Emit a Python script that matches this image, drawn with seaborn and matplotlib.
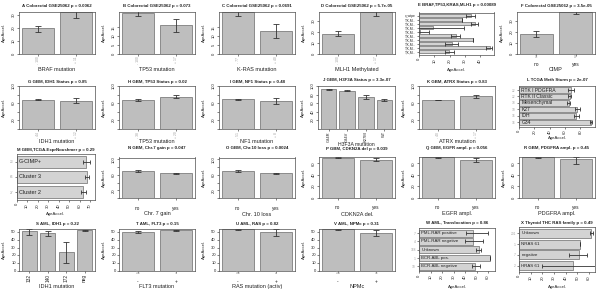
import numpy as np
import matplotlib
matplotlib.use("Agg")
import matplotlib.pyplot as plt
import matplotlib.transforms as mtransforms
import seaborn as sns

sns.set_theme(style="white")
plt.rcParams['font.family'] = ['Liberation Sans', 'DejaVu Sans']

# =========================================================================
# data
# =========================================================================
# row 1 - colorectal
a_cats = ["- 100", "+ 11"]
a_vals = [19.6, 32.6]
a_lo = [17.0, 28.2]
a_hi = [21.7, 37.0]

b_cats = ["- 100", "+ 17"]
b_vals = [23.5, 16.3]
b_lo = [21.5, 12.5]
b_hi = [25.5, 19.8]

c_cats = ["- 77", "+ 40"]
c_vals = [24.0, 13.0]
c_lo = [21.7, 9.2]
c_hi = [26.3, 17.0]

d_cats = ["- 100", "+ 17"]
d_vals = [18.3, 37.6]
d_lo = [15.9, 34.6]
d_hi = [20.5, 40.6]

e_names = ["x_wtpe", "T,K,M..", "T,K,M..", "T,K,M..", "T,K,M..",
           "T,K,M..", "T,K,M..", "T,K,M..", "T,K,M..", "T,K,M.."]
e_vals = [33.7, 28.0, 36.5, 9.3, 0.7, 24.0, 35.0, 21.3, 46.7, 19.8]
e_lo = [31.0, 28.0, 34.0, -11.0, -5.3, 21.0, 35.0, 17.0, 43.7, 17.0]
e_hi = [36.5, 28.0, 38.7, 29.7, 6.7, 27.0, 35.0, 25.6, 47.4, 23.0]

f_cats = ["no", "yes"]
f_counts = ["98", "19"]
f_vals = [18.3, 37.6]
f_lo = [15.3, 36.0]
f_hi = [20.8, 39.2]

# row 2 - GBM
g_cats = ["- 44", "+ 12"]
g_vals = [68.0, 65.0]
g_lo = [66.0, 59.0]
g_hi = [70.0, 72.0]

h_cats = ["- 38", "+ 20"]
h_vals = [67.0, 75.0]
h_lo = [64.0, 71.0]
h_hi = [70.0, 78.0]

i_cats = ["- 51", "+ 8"]
i_vals = [68.5, 64.5]
i_lo = [66.0, 58.0]
i_hi = [70.0, 72.0]

j_cats = ["G34R", "G34V", "K27M", "WT"]
j_vals = [92.5, 89.0, 73.5, 67.0]
j_lo = [91.0, 88.0, 70.0, 64.0]
j_hi = [94.0, 90.0, 78.0, 70.0]

k_cats = ["- 40", "+ 17"]
k_vals = [67.0, 76.0]
k_lo = [66.0, 72.0]
k_hi = [68.0, 80.0]

l_names = ["RTK I PDGFRA", "RTK II Classic", "Mesenchymal", "K27", "IDH", "G34"]
l_counts = ["22", "22", "38", "18", "16", "16"]
l_vals = [67.6, 66.0, 64.6, 76.0, 74.5, 94.0]
l_lo = [64.0, 64.0, 63.0, 73.0, 71.0, 92.8]
l_hi = [72.0, 68.0, 67.0, 80.0, 78.5, 95.6]

# row 3 - GBM copy number
m_names = ["G-CIMP+", "Cluster 3", "Cluster 2"]
m_counts = ["23", "66", "27"]
m_vals = [66.0, 67.0, 63.5]
m_lo = [63.0, 65.0, 61.0]
m_hi = [70.0, 69.0, 66.0]

yn_cats = ["no", "yes"]
n_vals = [69.7, 64.5]
n_lo = [67.7, 63.5]
n_hi = [71.7, 65.5]

o_vals = [69.7, 63.7]
o_lo = [67.0, 62.7]
o_hi = [72.0, 64.7]

p_vals = [69.4, 66.5]
p_lo = [68.4, 63.7]
p_hi = [70.4, 69.3]

q_vals = [70.4, 65.6]
q_lo = [69.9, 63.0]
q_hi = [70.9, 68.9]

r_vals = [70.4, 67.0]
r_lo = [69.9, 59.0]
r_hi = [70.9, 71.0]

# row 4 - AML / thyroid
s_cats = ["132", "140", "172", "neg"]
s_vals = [51.7, 48.7, 23.9, 53.0]
s_lo = [46.5, 45.7, 10.4, 52.5]
s_hi = [53.9, 52.2, 37.0, 53.5]

pm_cats = ["-", "+"]
t_counts = ["136", "57"]
t_vals = [50.0, 53.0]
t_lo = [48.7, 52.5]
t_hi = [51.7, 53.5]

u_counts = ["180", "11"]
u_vals = [53.9, 50.9]
u_lo = [53.4, 45.7]
u_hi = [54.4, 53.9]

v_counts = ["134", "44"]
v_vals = [53.9, 49.6]
v_lo = [53.4, 45.7]
v_hi = [54.4, 53.0]

w_names = ["PML.RAR positive", "PML.RAR negative", "Unknown", "BCR.ABL pos.", "BCR.ABL negative"]
w_counts = ["7", "4", "168", "1", "10"]
w_vals = [47.0, 47.0, 52.0, 62.0, 49.0]
w_lo = [41.0, 40.0, 49.5, 62.0, 46.0]
w_hi = [60.0, 56.0, 54.0, 62.0, 53.0]

x_names = ["Unknown", "NRAS 61", "negative", "HRAS 61"]
x_counts = ["201", "1", "7", "2"]
x_vals = [62.0, 52.0, 51.0, 46.0]
x_lo = [61.0, 52.0, 43.0, 20.0]
x_hi = [63.0, 52.0, 58.0, 72.0]

# =========================================================================
# style
# =========================================================================
FIG_W, FIG_H = 600, 289
BAR = "#bebebe"
HBAR = "#d3d3d3"
EDGE = "#4d4d4d"
TXT = "#222222"
GREY_TXT = "#a0a0a0"
TITLE_FS = 3.2
XLAB_FS = 4.0
YLAB_FS = 3.1
TICK_FS = 3.0

fig = plt.figure(figsize=(FIG_W / 100, FIG_H / 100), dpi=100)
fig.patch.set_facecolor("white")


def place(rect):
    l, t, r, b = rect
    return fig.add_axes([l / FIG_W, 1 - b / FIG_H, (r - l) / FIG_W, (b - t) / FIG_H])


def cat_lim(n):
    p = 0.04 * (n - 1 + 0.833)
    return -0.4167 - p, n - 1 + 0.4167 + p


def style(ax):
    for s in ax.spines.values():
        s.set_visible(True)
        s.set_color(EDGE)
        s.set_linewidth(0.5)
    ax.tick_params(length=1.5, width=0.4, pad=0.8, labelsize=TICK_FS,
                   colors=TXT, bottom=True, left=True)


def title(rect, text, y_px):
    l, t, r, b = rect
    fig.text((l + r) / 2 / FIG_W, 1 - y_px / FIG_H, text, ha="center", va="center",
             fontsize=TITLE_FS, fontweight="bold", color=TXT)


def xlab(ax, rect, text, y_px, fs=XLAB_FS):
    l, t, r, b = rect
    ax.set_xlabel(text, fontsize=fs, color=TXT)
    ax.xaxis.set_label_coords(0.5, -(y_px - b) / (b - t))
    ax.xaxis.label.set_va("center")


def ylab(ax, rect, text, x_px):
    l, t, r, b = rect
    ax.set_ylabel(text, fontsize=YLAB_FS, color=TXT)
    ax.yaxis.set_label_coords(-(l - x_px) / (r - l), 0.5)
    ax.yaxis.label.set_va("center")


def vpanel(rect, ttl, ttl_y, cats, vals, lo, hi, ymax, ticks, tlabels, xlabel, xlab_y,
           cat_rot=90, cat_color=GREY_TXT, cat_fs=2.4, cat_pad=0.8, ytick_rot=90,
           counts=None, count_y=None, ylab_x=None, xlab_fs=XLAB_FS):
    ax = place(rect)
    keys = [f"c{i}" for i in range(len(vals))]
    sns.barplot(x=keys, y=vals, color=BAR, edgecolor=EDGE, linewidth=0.4,
                width=0.833, saturation=1, errorbar=None, ax=ax)
    v = np.array(vals)
    ax.errorbar(np.arange(len(v)), v, yerr=[v - np.array(lo), np.array(hi) - v],
                fmt="none", ecolor="#333333", elinewidth=0.6, capsize=2.2, capthick=0.6)
    ax.set_xlim(*cat_lim(len(v)))
    ax.set_ylim(0, ymax)
    style(ax)
    ax.set_yticks(ticks)
    ax.set_yticklabels(tlabels, rotation=ytick_rot, va="center")
    ax.set_xticks(np.arange(len(v)))
    ax.set_xticklabels(cats, rotation=cat_rot, color=cat_color, fontsize=cat_fs,
                       va="top", ha="center")
    ax.tick_params(axis="x", pad=cat_pad)
    if counts is not None:
        l, t, r, b = rect
        tr = mtransforms.blended_transform_factory(ax.transData, ax.transAxes)
        for i, c in enumerate(counts):
            ax.text(i, -(count_y - b) / (b - t), c, transform=tr, ha="center", va="center",
                    fontsize=2.2, color=GREY_TXT)
    title(rect, ttl, ttl_y)
    xlab(ax, rect, xlabel, xlab_y, fs=xlab_fs)
    ylab(ax, rect, "AgeAccel.", rect[0] - 15 if ylab_x is None else ylab_x)
    return ax


def hpanel(rect, ttl, ttl_y, names, counts, vals, lo, hi, xmax, ticks, xlab_y,
           inside=True, name_fs=3.8):
    ax = place(rect)
    n = len(vals)
    keys = [f"c{i}" for i in range(n)]
    sns.barplot(x=vals, y=keys, orient="h", color=HBAR, edgecolor=EDGE, linewidth=0.4,
                width=0.833, saturation=1, errorbar=None, ax=ax)
    v = np.array(vals)
    ax.errorbar(v, np.arange(n), xerr=[v - np.array(lo), np.array(hi) - v],
                fmt="none", ecolor="#333333", elinewidth=0.6, capsize=1.6, capthick=0.6)
    lo_lim, hi_lim = cat_lim(n)
    ax.set_ylim(hi_lim, lo_lim)
    ax.set_xlim(0, xmax)
    style(ax)
    ax.set_xticks(ticks)
    ax.set_xticklabels([str(t) for t in ticks], rotation=90, ha="center", va="top")
    ax.set_yticks(np.arange(n))
    if inside:
        ax.set_yticklabels(counts, color=GREY_TXT, fontsize=2.3)
        tr = mtransforms.blended_transform_factory(ax.transAxes, ax.transData)
        for i, nm in enumerate(names):
            ax.text(0.03, i, nm, transform=tr, ha="left", va="center",
                    fontsize=name_fs, color=TXT)
    else:
        ax.set_yticklabels(names, color=TXT, fontsize=2.4)
    ax.set_ylabel("")
    title(rect, ttl, ttl_y)
    xlab(ax, rect, "AgeAccel.", xlab_y, fs=3.1)
    return ax


# =========================================================================
# row 1
# =========================================================================
t10 = [0, 10, 20, 30]
t5 = [0, 5, 10, 15]
vpanel((19, 11.5, 95, 53.5), "A Colorectal GSE25062 p = 0.0062", 6, a_cats, a_vals, a_lo, a_hi,
       32.9, t10, [str(t) for t in t10], "BRAF mutation", 69.5)
vpanel((119, 11.5, 195, 53.5), "B Colorectal GSE25062 p = 0.073", 6, b_cats, b_vals, b_lo, b_hi,
       24.2, t5, [str(t) for t in t5], "TP53 mutation", 69.5)
vpanel((219, 11.5, 295, 53.5), "C Colorectal GSE25062 p = 0.0691", 6, c_cats, c_vals, c_lo, c_hi,
       24.2, t5, [str(t) for t in t5], "K-RAS mutation", 69.5)
vpanel((319, 11.5, 395, 53.5), "D Colorectal GSE25062 p = 5.7e-05", 6, d_cats, d_vals, d_lo, d_hi,
       38.5, t10, [str(t) for t in t10], "MLH1 Methylated", 69.5)
hpanel((419, 12.5, 494, 55), "E BRAF,TP53,KRAS,MLH1 p = 0.00089", 5, e_names, None,
       e_vals, e_lo, e_hi, 49, [0, 10, 20, 30, 40], 69.5, inside=False)
vpanel((517, 11.5, 595, 53.5), "F Colorectal GSE25062 p = 3.5e-05", 6, f_cats, f_vals, f_lo, f_hi,
       38.5, t10, [str(t) for t in t10], "CIMP", 69.5,
       cat_rot=0, cat_color=TXT, cat_fs=3.5, cat_pad=4.5, counts=f_counts, count_y=57)

# =========================================================================
# row 2
# =========================================================================
t100 = [0, 20, 40, 60, 80, 100]
l100 = ["", "20", "", "60", "", "100"]
vpanel((19, 86, 95, 128.5), "G GBM, IDH1 Status p = 0.85", 82.5, g_cats, g_vals, g_lo, g_hi,
       100, t100, l100, "IDH1 mutation", 141.7)
vpanel((119, 86, 195, 128.5), "H GBM, TP53 Status p = 0.02", 82.5, h_cats, h_vals, h_lo, h_hi,
       100, t100, l100, "TP53 mutation", 141.7)
vpanel((219, 86, 295, 128.5), "I GBM, NF1 Status p = 0.48", 82.5, i_cats, i_vals, i_lo, i_hi,
       100, t100, l100, "NF1 mutation", 141.7)
vpanel((318, 86, 395, 128.5), "J GBM, H3F3A Status p = 3.3e-07", 80, j_cats, j_vals, j_lo, j_hi,
       100, [20, 40, 60, 80, 100], ["20", "40", "60", "80", "100"], "H3F3A mutation", 144.6,
       cat_color=TXT, cat_fs=2.9, cat_pad=0.5, xlab_fs=3.7)
vpanel((419, 86, 495, 128.5), "K GBM, ATRX Status p = 0.83", 82.5, k_cats, k_vals, k_lo, k_hi,
       100, t100, l100, "ATRX mutation", 141.7)
hpanel((519, 85.8, 595, 126.6), "L TCGA Meth Sturm p = 2e-07", 80, l_names, l_counts,
       l_vals, l_lo, l_hi, 99, [0, 20, 40, 60, 80], 137.5, name_fs=3.6)

# =========================================================================
# row 3
# =========================================================================
t71 = [0, 20, 40, 60]
hpanel((16.7, 154, 95, 200), "M GBM,TCGA.ExprNoushmer p = 0.29", 149.5, m_names, m_counts,
       m_vals, m_lo, m_hi, 74.8, [0, 10, 20, 30, 40, 50, 60, 70], 214, name_fs=4.0)
vpanel((119, 157.5, 195, 198), "N GBM, Chr.7 gain p = 0.047", 148.5, yn_cats, n_vals, n_lo, n_hi,
       105, t100, l100, "Chr. 7 gain", 214, cat_rot=0, cat_color=TXT, cat_fs=3.4, cat_pad=4.0)
vpanel((219, 157.5, 295, 198), "O GBM, Chr.10 loss p = 0.0024", 148.5, yn_cats, o_vals, o_lo, o_hi,
       105, t100, l100, "Chr. 10 loss", 214, cat_rot=0, cat_color=TXT, cat_fs=3.4, cat_pad=4.0)
vpanel((319, 157, 395, 197.6), "P GBM, CDKN2A del p = 0.039", 149, yn_cats, p_vals, p_lo, p_hi,
       71, t71, [str(t) for t in t71], "CDKN2A del.", 214, cat_rot=0, cat_color=TXT, cat_fs=3.4,
       cat_pad=4.0)
vpanel((419, 157, 495, 197.6), "Q GBM, EGFR ampl. p = 0.056", 148.5, yn_cats, q_vals, q_lo, q_hi,
       71, t71, [str(t) for t in t71], "EGFR ampl.", 214, cat_rot=0, cat_color=TXT, cat_fs=3.4,
       cat_pad=4.0)
vpanel((519, 157, 595, 197.6), "R GBM, PDGFRA ampl. p = 0.45", 148.5, yn_cats, r_vals, r_lo, r_hi,
       71, t71, [str(t) for t in t71], "PDGFRA ampl.", 214, cat_rot=0, cat_color=TXT, cat_fs=3.4,
       cat_pad=4.0)

# =========================================================================
# row 4
# =========================================================================
t50 = [0, 10, 20, 30, 40, 50]
vpanel((19, 229, 95, 270.7), "S AML, IDH1 p = 0.22", 223.5, s_cats, s_vals, s_lo, s_hi,
       54.5, t50, [str(t) for t in t50], "IDH1 mutation", 286.7,
       cat_color=TXT, cat_fs=3.4, ytick_rot=0, ylab_x=4)
vpanel((119, 229, 195, 270.7), "T AML, FLT3 p = 0.15", 223.5, pm_cats, t_vals, t_lo, t_hi,
       54.5, t50, [str(t) for t in t50], "FLT3 mutation", 286.7,
       cat_rot=0, cat_color=TXT, cat_fs=3.4, cat_pad=4.5, ytick_rot=0,
       counts=t_counts, count_y=273.5)
vpanel((219, 229, 295, 270.7), "U AML, RAS p = 0.82", 223.5, pm_cats, u_vals, u_lo, u_hi,
       54.5, t50, [str(t) for t in t50], "RAS mutation (activ)", 286.7,
       cat_rot=0, cat_color=TXT, cat_fs=3.4, cat_pad=4.5, ytick_rot=0,
       counts=u_counts, count_y=273.5)
vpanel((319, 229, 395, 270.7), "V AML, NPMc p = 0.31", 223.5, pm_cats, v_vals, v_lo, v_hi,
       54.5, t50, [str(t) for t in t50], "NPMc", 286.7,
       cat_rot=0, cat_color=TXT, cat_fs=3.4, cat_pad=4.5, ytick_rot=0,
       counts=v_counts, count_y=273.5)
hpanel((419, 228, 495, 271.4), "W AML, Translocation p = 0.86", 222.7, w_names, w_counts,
       w_vals, w_lo, w_hi, 66, [0, 10, 20, 30, 40, 50, 60], 287, name_fs=3.2)
hpanel((519, 227, 595, 272), "X Thyroid THC RAS family p = 0.49", 223, x_names, x_counts,
       x_vals, x_lo, x_hi, 65, [0, 10, 20, 30, 40, 50, 60], 287, name_fs=3.2)

fig.savefig("out.png", dpi=100, facecolor="white")
